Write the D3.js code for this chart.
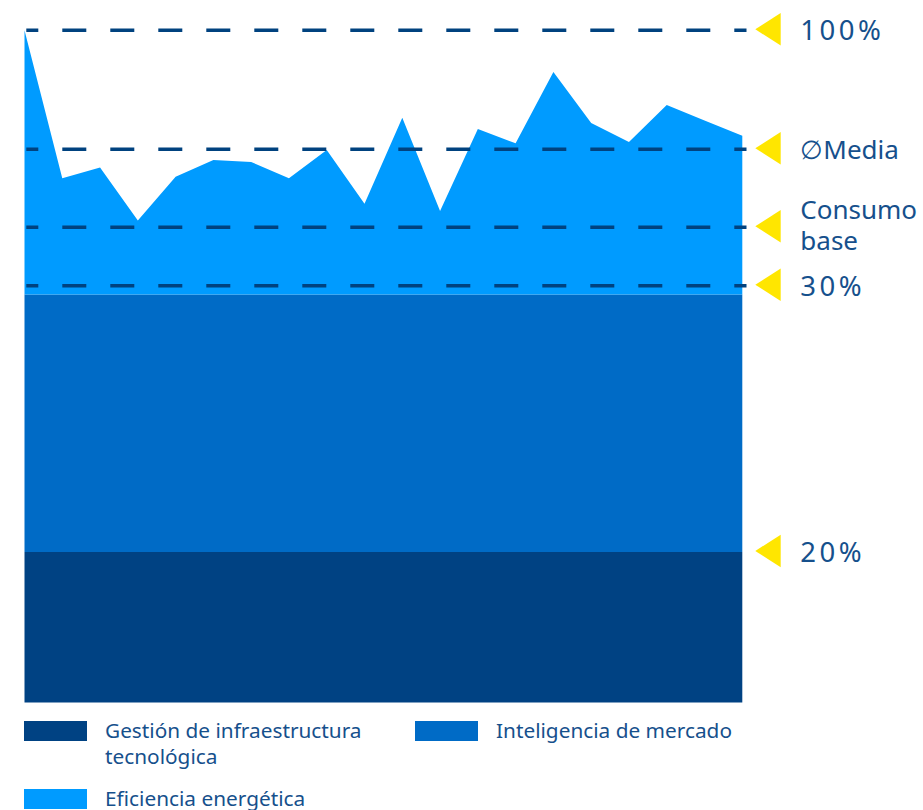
<!DOCTYPE html>
<html>
<head>
<meta charset="utf-8">
<script src="https://cdn.jsdelivr.net/npm/d3@7"></script>
<style>
  body { margin: 0; background: #fff; }
  svg { display: block; font-family: "Noto Sans", Lato, sans-serif; }
</style>
</head>
<body>
<svg id="chart"></svg>
<script>
const width = 923;
const height = 810;

// data (share of total, 0-100)
const periods = d3.range(20);
const infraValues = periods.map(() => 22.4);
const mercadoValues = periods.map(() => 38.3);
const eficienciaValues = [39.3, 17.3, 18.9, 11.0, 17.5, 20.0, 19.7, 17.3, 21.5, 13.5,
  26.3, 12.4, 24.6, 22.5, 33.1, 25.5, 22.7, 28.2, 25.9, 23.6];

const seriesNames = ["Gestión de infraestructura tecnológica", "Inteligencia de mercado", "Eficiencia energética"];
const seriesColors = ["#004283", "#006bc6", "#009bff"];

// reference lines
const refLabels = [["100%"], ["∅Media"], ["Consumo", "base"], ["30%"]];
const refValues = [100, 82.3, 70.7, 62.0];
// markers without a line
const bandLabels = ["20%"];
const bandValues = [22.4];

const margin = { top: 30.3, left: 24.5, right: 742.3, bottom: 702.5 };

const svg = d3.select("#chart").attr("width", width).attr("height", height);

const x = d3.scaleLinear().domain([0, periods.length - 1]).range([margin.left, margin.right]);
const y = d3.scaleLinear().domain([0, 100]).range([margin.bottom, margin.top]);

const rows = periods.map((p, i) => ({
  infra: infraValues[i],
  mercado: mercadoValues[i],
  eficiencia: eficienciaValues[i],
}));

const keys = ["infra", "mercado", "eficiencia"];
const stack = d3.stack().keys(keys);
const layers = stack(rows);

const area = d3.area()
  .x((d, i) => x(i))
  .y0((d) => y(d[0]))
  .y1((d) => y(d[1]));

svg.append("g")
  .selectAll("path")
  .data(layers)
  .join("path")
  .attr("d", area)
  .attr("fill", (d, i) => seriesColors[i]);

// dashed reference lines
const lineX0 = margin.left + 1.8;
const lineX1 = 746.5;
svg.append("g")
  .selectAll("line")
  .data(refValues)
  .join("line")
  .attr("x1", lineX0)
  .attr("x2", lineX1)
  .attr("y1", (d) => y(d))
  .attr("y2", (d) => y(d))
  .attr("stroke", "#00427f")
  .attr("stroke-width", 3.4)
  .attr("stroke-dasharray", "24 24")
  .attr("stroke-dashoffset", 12);

// yellow markers + labels
const markerValues = refValues.concat(bandValues);
const markerLabels = refLabels.concat(bandLabels.map((l) => [l]));

const markers = svg.append("g")
  .selectAll("g")
  .data(markerValues)
  .join("g")
  .attr("transform", (d) => `translate(755.3, ${y(d) - 1})`);

markers.append("path")
  .attr("d", "M0,0L25.4,-16.3L25.4,16.3Z")
  .attr("fill", "#ffe600");

markers.each(function (d, i) {
  const lines = markerLabels[i];
  const isPct = lines[0].endsWith("%");
  const startY = lines.length > 1 ? -7 : 11;
  // one text per line so the two-line label stays readable
  lines.forEach((l, j) => {
    d3.select(this).append("text")
      .attr("x", 45)
      .attr("y", startY + j * 31)
      .attr("fill", "#16508c")
      .attr("font-size", isPct ? 27.5 : 26)
      .attr("letter-spacing", isPct ? 3.5 : 0)
      .text(l);
  });
});

// legend
const legendItems = [
  { lines: ["Gestión de infraestructura", "tecnológica"], color: seriesColors[0], x: 24, y: 721 },
  { lines: ["Inteligencia de mercado"], color: seriesColors[1], x: 415, y: 721 },
  { lines: ["Eficiencia energética"], color: seriesColors[2], x: 24, y: 789 },
];

const legend = svg.append("g")
  .selectAll("g")
  .data(legendItems)
  .join("g")
  .attr("transform", (d) => `translate(${d.x}, ${d.y})`);

legend.append("rect")
  .attr("width", 63)
  .attr("height", 20)
  .attr("fill", (d) => d.color);

legend.append("text")
  .attr("fill", "#16508c")
  .attr("font-size", 20.8)
  .selectAll("tspan")
  .data((d) => d.lines)
  .join("tspan")
  .attr("x", 81)
  .attr("y", (d, i) => 16.5 + i * 26.5)
  .text((d) => d);
</script>
</body>
</html>
